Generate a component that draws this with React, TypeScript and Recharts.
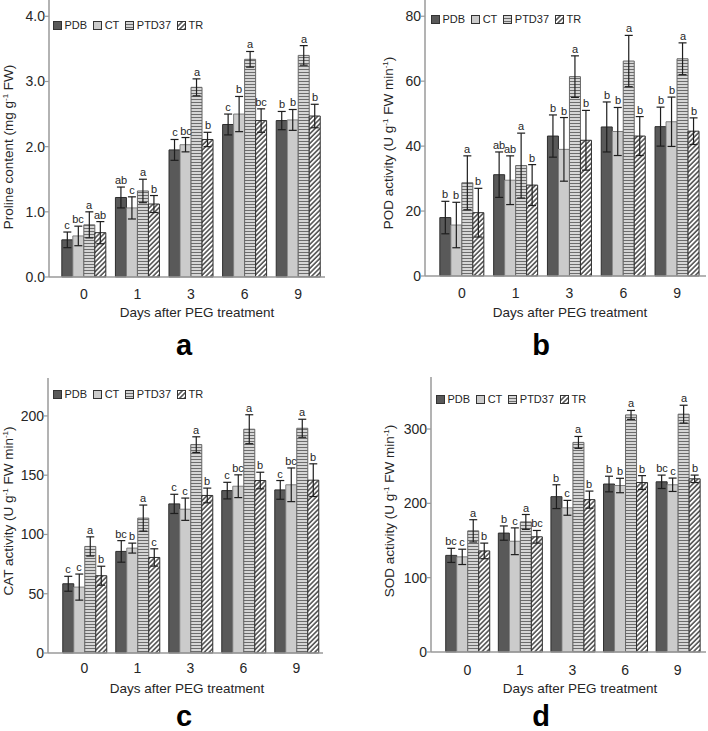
import React from 'react'
import { BarChart, Bar, XAxis, YAxis, ErrorBar, LabelList, Legend, Label } from 'recharts'

// days after PEG treatment
const DAYS = ['0', '1', '3', '6', '9']
const SERIES = ['PDB', 'CT', 'PTD37', 'TR']

// a: proline content (mg g-1 FW), rows = PDB, CT, PTD37, TR
const PRO_MEAN = [
  [0.57, 1.22, 1.95, 2.34, 2.4],
  [0.63, 1.06, 2.03, 2.5, 2.41],
  [0.8, 1.32, 2.91, 3.34, 3.4],
  [0.68, 1.12, 2.11, 2.4, 2.47],
]
const PRO_ERR = [
  [0.12, 0.16, 0.16, 0.16, 0.14],
  [0.15, 0.17, 0.11, 0.27, 0.16],
  [0.2, 0.18, 0.13, 0.12, 0.15],
  [0.17, 0.13, 0.11, 0.18, 0.18],
]
const PRO_SIG = [
  ['c', 'ab', 'c', 'c', 'b'],
  ['bc', 'c', 'bc', 'b', 'b'],
  ['a', 'a', 'a', 'a', 'a'],
  ['ab', 'b', 'b', 'bc', 'b'],
]

// b: POD activity
const POD_MEAN = [
  [18.0, 31.2, 43.1, 45.9, 46.0],
  [15.7, 29.5, 39.0, 44.5, 47.5],
  [28.7, 34.0, 61.4, 66.2, 66.9],
  [19.5, 28.0, 41.8, 43.1, 44.6],
]
const POD_ERR = [
  [5.0, 7.0, 6.5, 7.7, 6.0],
  [7.0, 7.5, 9.8, 7.4, 7.6],
  [8.3, 10.0, 6.4, 7.9, 4.9],
  [7.5, 6.3, 9.2, 6.0, 4.1],
]
const POD_SIG = [
  ['b', 'ab', 'b', 'b', 'b'],
  ['b', 'ab', 'b', 'b', 'b'],
  ['a', 'a', 'a', 'a', 'a'],
  ['b', 'b', 'b', 'b', 'b'],
]

// c: CAT activity
const CAT_MEAN = [
  [58.4, 85.7, 125.8, 137.0, 137.6],
  [55.6, 88.5, 121.3, 140.7, 141.9],
  [89.9, 113.8, 175.8, 188.8, 189.6],
  [65.2, 80.6, 132.9, 145.5, 145.8],
]
const CAT_ERR = [
  [6.3, 9.1, 8.1, 7.0, 7.9],
  [11.0, 4.2, 9.4, 9.6, 14.2],
  [8.1, 11.0, 6.6, 12.2, 7.6],
  [8.0, 7.3, 6.2, 7.0, 13.8],
]
const CAT_SIG = [
  ['c', 'bc', 'c', 'c', 'c'],
  ['c', 'b', 'c', 'bc', 'bc'],
  ['a', 'a', 'a', 'a', 'a'],
  ['b', 'c', 'b', 'b', 'b'],
]

// d: SOD activity
const SOD_MEAN = [
  [130, 160, 209, 226, 229],
  [128, 149, 194, 224, 225],
  [163, 175, 282, 319, 320],
  [136, 155, 205, 228, 233],
]
const SOD_ERR = [
  [9.5, 9.6, 16, 10.5, 9],
  [10.3, 18, 10, 9.7, 9],
  [15, 10, 8, 6, 12],
  [10.5, 8.5, 11.5, 9.3, 5],
]
const SOD_SIG = [
  ['bc', 'b', 'b', 'b', 'bc'],
  ['c', 'c', 'c', 'b', 'c'],
  ['a', 'a', 'a', 'a', 'a'],
  ['b', 'bc', 'b', 'b', 'b'],
]

const INK = '#262626'
const AXIS = '#9a9a9a'
const FONT = '"Liberation Sans", Arial, Helvetica, sans-serif'

// bar look per series (PTD37 horizontal stripes, TR diagonal hatching)
const fillFor = (s: string, k: string) =>
  s === 'PDB' ? '#595959' : s === 'CT' ? '#cbcbcb' : s === 'PTD37' ? `url(#hz-${k})` : `url(#dg-${k})`
const strokeFor = (s: string) =>
  s === 'PDB' ? '#2e2e2e' : s === 'CT' ? '#7f7f7f' : s === 'PTD37' ? '#666666' : '#2e2e2e'

type Seg = [string, boolean]

interface Panel {
  k: string
  letter: string
  left: number
  top: number
  h: number
  axisW: number
  mTop: number
  mRight: number
  mBottom: number
  padL: number
  padR: number
  max: number
  ticks: number[]
  fmt: (v: number) => string
  mean: number[][]
  err: number[][]
  sig: string[][]
  yLabel: Seg[]
  yLabelX: number
  yLabelY: number
  titleX: number
  titleY: number
  letterX: number
  letterY: number
  legLeft: number
  legTop: number
  tickMargin: number
}

const PANELS: Panel[] = [
  {
    k: 'a', letter: 'a', left: 0, top: 0, h: 360, axisW: 49, mTop: 0, mRight: 29, mBottom: 53,
    padL: 8, padR: 0, max: 4.25, ticks: [0, 1, 2, 3, 4], fmt: (v) => v.toFixed(1),
    mean: PRO_MEAN, err: PRO_ERR, sig: PRO_SIG,
    yLabel: [['Proline content (mg g', false], ['-1', true], [' FW)', false]],
    yLabelX: 13, yLabelY: 147, titleX: 197, titleY: 317, letterX: 184, letterY: 355,
    legLeft: 53, legTop: 19, tickMargin: 6,
  },
  {
    k: 'b', letter: 'b', left: 354, top: 0, h: 360, axisW: 71, mTop: 0, mRight: 2, mBottom: 54,
    padL: 10, padR: 2, max: 85, ticks: [0, 20, 40, 60, 80], fmt: (v) => String(v),
    mean: POD_MEAN, err: POD_ERR, sig: POD_SIG,
    yLabel: [['POD activity (U g', false], ['-1', true], [' FW min', false], ['-1', true], [')', false]],
    yLabelX: 39, yLabelY: 143, titleX: 216, titleY: 317, letterX: 187, letterY: 355,
    legLeft: 77, legTop: 13, tickMargin: 6,
  },
  {
    k: 'c', letter: 'c', left: 0, top: 360, h: 371, axisW: 48, mTop: 18, mRight: 31, mBottom: 48,
    padL: 10, padR: 0, max: 232, ticks: [0, 50, 100, 150, 200], fmt: (v) => String(v),
    mean: CAT_MEAN, err: CAT_ERR, sig: CAT_SIG,
    yLabel: [['CAT activity (U g', false], ['-1', true], [' FW min', false], ['-1', true], [')', false]],
    yLabelX: 13, yLabelY: 151, titleX: 187, titleY: 333, letterX: 184, letterY: 366,
    legLeft: 53, legTop: 28, tickMargin: 4,
  },
  {
    k: 'd', letter: 'd', left: 354, top: 360, h: 371, axisW: 77, mTop: 17, mRight: 2, mBottom: 49,
    padL: 10, padR: 2, max: 370, ticks: [0, 100, 200, 300], fmt: (v) => String(v),
    mean: SOD_MEAN, err: SOD_ERR, sig: SOD_SIG,
    yLabel: [['SOD activity (U g', false], ['-1', true], [' FW min', false], ['-1', true], [')', false]],
    yLabelX: 39.5, yLabelY: 151, titleX: 226, titleY: 333, letterX: 187, letterY: 366,
    legLeft: 82, legTop: 33, tickMargin: 7,
  },
]

function rows(p: Panel) {
  return DAYS.map((day, i) => {
    const r: Record<string, any> = { day }
    SERIES.forEach((s, si) => {
      r[s] = p.mean[si][i]
      r[s + '_err'] = p.err[si][i]
      // letter + relative error, so the label can sit above the error cap
      r[s + '_lab'] = p.sig[si][i] + '|' + p.err[si][i] / p.mean[si][i]
    })
    return r
  })
}

const letterLabel = (props: any) => {
  const vb = props.viewBox ?? props
  const x = vb.x ?? props.x
  const y = vb.y ?? props.y
  const w = vb.width ?? props.width
  const h = vb.height ?? props.height
  const [sig, rel] = String(props.value).split('|')
  const top = y - h * Number(rel)
  return (
    <text x={Math.round(x + w / 2)} y={Math.round(top - 3)} textAnchor="middle" fontSize={11} fill={INK}>
      {sig}
    </text>
  )
}

function LegendRow({ k }: { k: string }) {
  return (
    <div style={{ display: 'flex', alignItems: 'center', fontSize: 11, color: INK, fontFamily: FONT, lineHeight: '13px', whiteSpace: 'nowrap' }}>
      {SERIES.map((s) => (
        <div key={s} style={{ display: 'flex', alignItems: 'center', marginRight: 6, flex: 'none' }}>
          <svg width={9} height={9} style={{ display: 'block', flex: 'none' }}>
            <rect x={0.5} y={0.5} width={8} height={8} fill={fillFor(s, k)} stroke="#333" strokeWidth={1} />
          </svg>
          <span style={{ marginLeft: 2.5 }}>{s}</span>
        </div>
      ))}
    </div>
  )
}

function PanelChart({ p }: { p: Panel }) {
  const data = rows(p)
  return (
    <div style={{ position: 'absolute', left: p.left, top: p.top }}>
      <BarChart
        width={354}
        height={p.h}
        data={data}
        margin={{ top: p.mTop, right: p.mRight, left: 0, bottom: p.mBottom }}
        barCategoryGap="9%"
        barGap={0}
      >
        <defs>
          <pattern id={`hz-${p.k}`} patternUnits="userSpaceOnUse" width={4} height={3}>
            <rect width={4} height={3} fill="#d6d6d6" />
            <line x1={0} y1={0.5} x2={4} y2={0.5} stroke="#6c6c6c" strokeWidth={1} />
          </pattern>
          <pattern id={`dg-${p.k}`} patternUnits="userSpaceOnUse" width={3.4} height={3.4} patternTransform="rotate(45)">
            <rect width={3.4} height={3.4} fill="#ffffff" />
            <line x1={0.9} y1={0} x2={0.9} y2={3.4} stroke="#1a1a1a" strokeWidth={1.2} />
          </pattern>
        </defs>
        <XAxis
          dataKey="day"
          height={30}
          padding={{ left: p.padL, right: p.padR }}
          axisLine={{ stroke: AXIS, strokeWidth: 1.5 }}
          tickLine={false}
          tickMargin={p.tickMargin}
          tick={{ fill: INK, fontSize: 14 }}
        >
          <Label
            content={() => (
              <g>
                <text x={p.titleX} y={p.titleY} textAnchor="middle" fontSize={13.5} fill={INK}>
                  Days after PEG treatment
                </text>
                <text x={p.letterX} y={p.letterY} textAnchor="middle" fontSize={29} fontWeight="bold" fill="#000">
                  {p.letter}
                </text>
              </g>
            )}
          />
        </XAxis>
        <YAxis
          width={p.axisW}
          domain={[0, p.max]}
          ticks={p.ticks}
          tickFormatter={p.fmt}
          axisLine={{ stroke: AXIS, strokeWidth: 1.5 }}
          tickLine={{ stroke: AXIS, strokeWidth: 1.2 }}
          tickSize={4}
          tickMargin={0}
          tick={{ fill: INK, fontSize: 14 }}
        >
          <Label
            content={() => (
              <text
                x={p.yLabelX}
                y={p.yLabelY}
                transform={`rotate(-90, ${p.yLabelX}, ${p.yLabelY})`}
                textAnchor="middle"
                fontSize={13.5}
                fill={INK}
              >
                {p.yLabel.map(([t, sup], i) =>
                  sup ? (
                    <tspan key={i} fontSize={8} dy={-5}>{t}</tspan>
                  ) : (
                    <tspan key={i} dy={i > 0 && p.yLabel[i - 1][1] ? 5 : 0}>{t}</tspan>
                  ),
                )}
              </text>
            )}
          />
        </YAxis>
        <Legend
          layout="vertical"
          align="center"
          verticalAlign="middle"
          wrapperStyle={{ position: 'absolute', left: p.legLeft, top: p.legTop, width: 240, height: 'auto' }}
          content={() => <LegendRow k={p.k} />}
        />
        {SERIES.map((s) => (
          <Bar
            key={s}
            dataKey={s}
            fill={fillFor(s, p.k)}
            stroke={strokeFor(s)}
            strokeWidth={1}
            isAnimationActive={false}
          >
            <ErrorBar dataKey={s + '_err'} width={4} stroke="#1e1e1e" strokeWidth={1.2} direction="y" isAnimationActive={false} />
            <LabelList dataKey={s + '_lab'} content={letterLabel} />
          </Bar>
        ))}
      </BarChart>
    </div>
  )
}

export default function App() {
  return (
    <div style={{ position: 'absolute', left: 0, top: 0, width: 708, height: 731, background: '#fff', fontFamily: FONT }}>
      {PANELS.map((p) => (
        <PanelChart key={p.k} p={p} />
      ))}
    </div>
  )
}
